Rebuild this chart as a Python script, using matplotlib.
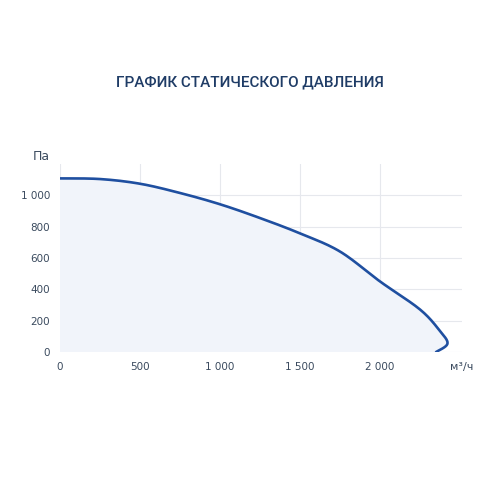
import matplotlib
matplotlib.use("Agg")
import matplotlib.pyplot as plt
import numpy as np

flow = [0, 250, 500, 750, 1000, 1250, 1500, 1750, 2000, 2250, 2375, 2421, 2350]
pressure = [1108, 1104, 1074, 1015, 943, 855, 757, 641, 450, 271, 133, 53, 0]
xticks = [0, 500, 1000, 1500, 2000]
xlabels = ["0", "500", "1 000", "1 500", "2 000"]
yticks = [0, 200, 400, 600, 800, 1000]
ylabels = ["0", "200", "400", "600", "800", "1 000"]

# smooth drawing path (Catmull-Rom through the read points)
P = np.array([flow, pressure], dtype=float).T
pts = np.vstack([P[0], P, P[-1]])
path = []
for i in range(1, len(pts) - 2):
    p0, p1, p2, p3 = pts[i - 1], pts[i], pts[i + 1], pts[i + 2]
    for t in np.linspace(0, 1, 20, endpoint=False):
        path.append(0.5 * ((2 * p1) + (-p0 + p2) * t + (2 * p0 - 5 * p1 + 4 * p2 - p3) * t**2
                           + (-p0 + 3 * p1 - 3 * p2 + p3) * t**3))
path.append(P[-1])
path = np.array(path)

fig = plt.figure(figsize=(5, 5), dpi=100)
ax = fig.add_axes([0.12, 0.296, 0.804, 0.376])
ax.set_facecolor("white")
ax.fill(np.append(path[:, 0], 0), np.append(path[:, 1], 0), color="#f1f4fa", zorder=1)
ax.plot(path[:, 0], path[:, 1], color="#1f4fa0", lw=1.9, zorder=3, solid_capstyle="round")
ax.set_xlim(0, 2512)
ax.set_ylim(0, 1200)
ax.set_xticks(xticks, xlabels)
ax.set_yticks(yticks, ylabels)
ax.grid(color="#e6e8ed", lw=0.8, zorder=0)
ax.set_axisbelow(True)
for s in ax.spines.values():
    s.set_visible(False)
ax.tick_params(length=0, labelsize=7.5, colors="#3a4a5e", pad=7)
fig.text(0.5, 0.835, "ГРАФИК СТАТИЧЕСКОГО ДАВЛЕНИЯ", ha="center", va="center",
         fontsize=11, color="#1f3c66", fontfamily="Roboto", fontweight="medium")
fig.text(0.065, 0.68, "Па", fontsize=9, color="#3a4a5e")
fig.text(0.9, 0.26, "м³/ч", fontsize=8, color="#3a4a5e")
fig.savefig("out.png")
